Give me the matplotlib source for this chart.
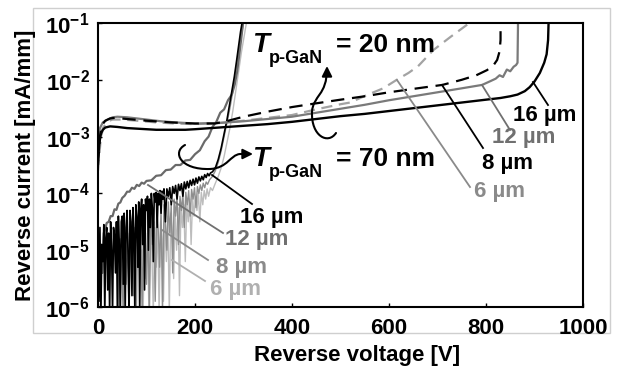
import numpy as np
import matplotlib
matplotlib.use('Agg')
import matplotlib.pyplot as plt
from matplotlib.path import Path
from matplotlib.patches import FancyArrowPatch, Rectangle
from matplotlib.lines import Line2D
from matplotlib.transforms import Affine2D

plt.rcParams['font.family'] = ['Liberation Sans', 'DejaVu Sans']
plt.rcParams['font.weight'] = 'bold'
plt.rcParams['mathtext.fontset'] = 'custom'
plt.rcParams['mathtext.rm'] = 'Liberation Sans:bold'
plt.rcParams['mathtext.bf'] = 'Liberation Sans:bold'

# (reverse voltage [V], log10 of reverse current [mA/mm])
# T_p-GaN = 20 nm
g20_16um = [(0, -3.4), (3, -3.1), (6, -2.95), (10, -2.88), (15, -2.84), (25, -2.82), (40, -2.83),
            (60, -2.85), (80, -2.86), (100, -2.87), (120, -2.88), (150, -2.88), (180, -2.88),
            (200, -2.87), (250, -2.84), (300, -2.81), (350, -2.78), (400, -2.74), (450, -2.69),
            (500, -2.64), (550, -2.6), (600, -2.55), (650, -2.5), (700, -2.45), (750, -2.4),
            (800, -2.35), (830, -2.32), (850, -2.29), (865, -2.26), (880, -2.2), (890, -2.13),
            (900, -2.03), (911, -1.88), (920, -1.7), (925, -1.55), (928, -1.3), (929, -1.0)]
g20_12um = [(0, -3.0), (4, -2.85), (10, -2.75), (20, -2.7), (30, -2.66), (40, -2.65), (60, -2.66),
            (80, -2.68), (100, -2.7), (130, -2.73), (160, -2.75), (200, -2.77), (250, -2.76),
            (300, -2.73), (350, -2.69), (400, -2.65), (450, -2.58), (500, -2.51), (550, -2.44),
            (600, -2.36), (650, -2.29), (700, -2.22), (750, -2.15), (792, -2.09), (810, -2.02),
            (820, -1.98), (828, -1.92), (835, -1.95), (843, -1.82), (850, -1.85), (857, -1.77),
            (862, -1.74), (865, -1.7), (866, -1.0)]
g20_8um = [(0, -3.5), (4, -3.0), (8, -2.8), (15, -2.72), (25, -2.68), (35, -2.67), (60, -2.69),
           (100, -2.72), (150, -2.75), (200, -2.77), (240, -2.77), (260, -2.74), (300, -2.65),
           (350, -2.56), (400, -2.48), (430, -2.44), (500, -2.35), (550, -2.29), (600, -2.22),
           (650, -2.16), (710, -2.09), (750, -2.0), (780, -1.92), (802, -1.83), (815, -1.75),
           (823, -1.65), (828, -1.5), (830, -1.3), (830, -1.0)]
g20_6um = [(0, -3.6), (5, -3.1), (10, -2.85), (20, -2.73), (30, -2.7), (50, -2.7), (80, -2.72),
           (120, -2.75), (160, -2.77), (200, -2.78), (250, -2.76), (300, -2.72), (350, -2.67),
           (400, -2.62), (450, -2.52), (500, -2.43), (520, -2.4), (554, -2.27), (588, -2.15),
           (616, -2.0), (640, -1.88), (660, -1.76), (691, -1.48), (726, -1.25), (761, -1.03),
           (765, -1.0)]

# T_p-GaN = 70 nm (noisy traces, values below 1e-6 run off the axis)
g70_16um = [(0, -4.7), (2, -5.9), (4, -4.6), (6, -6.1), (8, -4.9), (10, -5.2), (12, -4.55),
            (14, -6.1), (16, -4.8), (18, -4.6), (20, -5.7), (22, -4.7), (24, -6.1), (26, -4.5),
            (28, -5.0), (30, -6.1), (32, -4.6), (34, -4.75), (36, -5.4), (38, -4.5), (40, -6.1),
            (42, -4.4), (44, -4.9), (46, -6.1), (48, -4.5), (50, -4.4), (52, -5.6), (54, -4.35),
            (56, -6.1), (58, -4.6), (60, -4.3), (62, -5.1), (64, -6.1), (66, -4.3), (68, -4.5),
            (70, -5.8), (72, -4.25), (74, -4.7), (76, -6.1), (78, -4.2), (80, -4.4), (82, -5.3),
            (84, -4.15), (86, -6.1), (88, -4.3), (90, -4.1), (92, -4.9), (94, -4.2), (96, -5.7),
            (98, -4.1), (100, -4.3), (102, -4.05), (104, -5.0), (106, -4.1), (108, -4.6),
            (110, -4.0), (112, -4.25), (114, -5.2), (116, -4.0), (118, -4.15), (120, -3.98),
            (122, -4.6), (124, -4.0), (126, -4.2), (128, -3.95), (130, -4.35), (132, -3.96),
            (134, -4.1), (136, -3.92), (139, -4.5), (142, -3.92), (145, -4.05), (148, -3.9),
            (151, -4.2), (154, -3.88), (157, -4.0), (160, -3.86), (163, -4.1), (166, -3.84),
            (169, -3.95), (172, -3.83), (175, -4.05), (178, -3.8), (181, -3.92), (184, -3.79),
            (187, -3.9), (190, -3.77), (193, -3.86), (196, -3.75), (199, -3.85), (202, -3.73),
            (205, -3.82), (208, -3.71), (211, -3.78), (214, -3.7), (217, -3.76), (220, -3.67),
            (223, -3.72), (226, -3.65), (229, -3.69), (232, -3.64), (236, -3.62), (242, -3.55),
            (248, -3.4), (254, -3.2), (260, -2.95), (266, -2.7), (271, -2.45), (276, -2.2),
            (281, -1.95), (286, -1.65), (290, -1.4), (294, -1.15), (297, -1.0)]
g70_12um = [(0, -5.2), (3, -5.8), (6, -4.9), (9, -5.4), (12, -4.7), (15, -4.62), (18, -4.52),
            (22, -4.5), (26, -4.4), (30, -4.4), (34, -4.28), (38, -4.29), (42, -4.18),
            (46, -4.16), (50, -4.08), (55, -4.04), (60, -3.97), (65, -3.97), (70, -3.9),
            (75, -3.92), (80, -3.85), (85, -3.87), (90, -3.81), (95, -3.83), (100, -3.78),
            (110, -3.77), (120, -3.69), (130, -3.68), (140, -3.59), (150, -3.58), (160, -3.5),
            (170, -3.5), (180, -3.42), (190, -3.41), (200, -3.31), (210, -3.24), (220, -3.08),
            (228, -3.0), (236, -2.83), (244, -2.74), (252, -2.58), (260, -2.52), (268, -2.36),
            (276, -2.26), (282, -2.08), (287, -1.85), (291, -1.58), (295, -1.3), (299, -1.0)]
g70_8um = [(40, -5.0), (43, -6.1), (46, -4.8), (49, -5.3), (52, -6.1), (55, -4.75), (58, -5.6),
           (61, -4.7), (64, -6.1), (67, -4.9), (70, -4.65), (73, -5.8), (76, -4.6), (79, -6.1),
           (82, -4.5), (85, -5.1), (88, -4.55), (91, -6.1), (94, -4.45), (97, -4.7), (100, -5.6),
           (103, -4.4), (106, -6.1), (109, -4.35), (112, -4.9), (115, -4.5), (118, -5.9),
           (121, -4.3), (124, -4.6), (127, -5.3), (130, -4.25), (133, -6.1), (136, -4.2),
           (139, -4.5), (142, -5.0), (145, -4.15), (148, -4.7), (151, -4.2), (154, -5.4),
           (157, -4.1), (160, -4.4), (163, -4.05), (166, -4.9), (169, -4.05), (172, -4.3),
           (175, -4.0), (178, -4.6), (181, -3.98), (184, -4.2), (187, -3.95), (190, -4.4),
           (193, -3.93), (196, -4.1), (199, -3.9), (202, -4.25), (205, -3.88), (208, -4.0),
           (211, -3.85), (214, -3.95), (217, -3.82), (220, -3.9), (223, -3.8), (226, -3.84),
           (230, -3.76), (236, -3.7), (242, -3.6), (248, -3.45), (254, -3.25), (260, -3.0),
           (266, -2.75), (272, -2.5), (278, -2.2), (284, -1.85), (290, -1.5), (295, -1.25),
           (300, -1.0)]
g70_6um = [(90, -5.0), (93, -6.1), (96, -4.8), (99, -5.5), (102, -4.7), (105, -6.1), (108, -4.65),
           (111, -5.0), (114, -6.1), (117, -4.6), (120, -5.3), (123, -4.55), (126, -6.1),
           (129, -4.5), (132, -4.8), (135, -5.9), (138, -4.45), (141, -5.2), (144, -4.4),
           (147, -6.1), (150, -4.35), (153, -4.7), (156, -5.5), (159, -4.3), (162, -5.0),
           (165, -4.25), (168, -5.8), (171, -4.2), (174, -4.6), (177, -4.2), (180, -5.2),
           (183, -4.15), (186, -4.5), (189, -4.1), (192, -4.9), (195, -4.08), (198, -4.4),
           (201, -4.05), (204, -4.3), (207, -4.0), (210, -4.5), (213, -3.98), (216, -4.2),
           (219, -3.95), (222, -4.1), (225, -3.92), (228, -4.05), (232, -3.9), (236, -3.95),
           (242, -3.82), (248, -3.7), (254, -3.55), (260, -3.35), (266, -3.1), (272, -2.85),
           (278, -2.55), (284, -2.2), (290, -1.85), (296, -1.5), (302, -1.2), (306, -1.0)]

xticks = [0, 200, 400, 600, 800, 1000]
yticks = [1e-6, 1e-5, 1e-4, 1e-3, 1e-2, 1e-1]
ytick_labels = [r'$\mathbf{10^{-6}}$', r'$\mathbf{10^{-5}}$', r'$\mathbf{10^{-4}}$',
                r'$\mathbf{10^{-3}}$', r'$\mathbf{10^{-2}}$', r'$\mathbf{10^{-1}}$']

W, H = 622, 369
fig = plt.figure(figsize=(W / 100, H / 100), dpi=100)
# pixel coordinates, origin top-left
pxT = Affine2D().scale(1 / W, -1 / H).translate(0, 1) + fig.transFigure

# light grey chart-area frame
fig.add_artist(Rectangle((33, 8), 577, 325, transform=pxT, fill=False,
                         edgecolor='#cfcfcf', lw=1, zorder=-1))

ax = fig.add_axes([98 / W, 1 - 307 / H, 485 / W, 284 / H])


def draw(pts, **kw):
    v, l = zip(*pts)
    ax.plot(v, 10 ** np.array(l), **kw)


# 70 nm (noisy, low leakage)
draw(g70_6um, color='#bdbdbd', lw=1.0)
draw(g70_8um, color='#8e8e8e', lw=1.0)
draw(g70_12um, color='#6a6a6a', lw=1.6)
draw(g70_16um, color='black', lw=1.2)
# 20 nm
draw(g20_6um, color='#a3a3a3', lw=1.6, dashes=(5, 3))
draw(g20_12um, color='#7a7a7a', lw=1.6)
draw(g20_8um, color='black', lw=1.6, dashes=(6, 3.5))
draw(g20_16um, color='black', lw=1.7)

ax.set_yscale('log')
ax.set_xlim(0, 1000)
ax.set_ylim(1e-6, 1e-1)
ax.set_xticks(xticks)
ax.set_yticks(yticks)
ax.set_yticklabels(ytick_labels)
ax.minorticks_off()
ax.tick_params(direction='in', length=3, width=1, labelsize=16)
ax.tick_params(axis='x', pad=8)
ax.tick_params(axis='y', pad=6)
for s in ax.spines.values():
    s.set_linewidth(1.5)

ax.set_xlabel('Reverse voltage [V]', fontsize=16, fontweight='bold')
ax.set_ylabel('Reverse current [mA/mm]', fontsize=16, fontweight='bold')
ax.xaxis.set_label_coords(0.535, -0.135)
ax.yaxis.set_label_coords(-0.128, 0.5)

# labels with pointer lines (pixel coords): text, colour, text centre, line start, line end
labels = [
    ('16 µm', 'black', (545, 115), (533, 82), (548, 105)),
    ('12 µm', '#707070', (524, 138), (482, 85), (510, 130)),
    ('8 µm', 'black', (508, 163), (442, 85), (483, 148)),
    ('6 µm', '#8a8a8a', (500, 191), (397, 80), (470, 187)),
    ('16 µm', 'black', (272, 218), (212, 175), (252, 204)),
    ('12 µm', '#707070', (257, 240), (148, 185), (223, 233)),
    ('8 µm', '#8a8a8a', (241, 267), (162, 230), (208, 260)),
    ('6 µm', '#b0b0b0', (235, 290), (172, 260), (205, 281)),
]
for txt, c, tp, p0, p1 in labels:
    fig.add_artist(Line2D([p0[0], p1[0]], [p0[1], p1[1]], transform=pxT, color=c, lw=1.3))
    fig.text(tp[0], tp[1], txt, transform=pxT, color=c, fontsize=16, fontweight='bold',
             ha='center', va='center')

# T_p-GaN labels
for base, val in [(52, '= 20 nm'), (166, '= 70 nm')]:
    fig.text(252, base, 'T', transform=pxT, fontsize=20, fontweight='bold', fontstyle='italic',
             va='baseline')
    fig.text(269, base + 11, 'p-GaN', transform=pxT, fontsize=13, fontweight='bold', va='baseline')
    fig.text(336, base, val, transform=pxT, fontsize=19, fontweight='bold', va='baseline')

# curved arrows
arr_up = Path([(336, 133), (328, 145), (311, 136), (312, 112), (313, 95), (327, 96), (327, 66)],
              [Path.MOVETO, Path.CURVE4, Path.CURVE4, Path.CURVE4, Path.CURVE4, Path.CURVE4, Path.CURVE4])
arr_right = Path([(185, 145), (172, 152), (180, 170), (210, 169), (228, 168), (230, 155), (240, 154), (253, 154)],
                 [Path.MOVETO, Path.CURVE4, Path.CURVE4, Path.CURVE4, Path.CURVE4, Path.CURVE4, Path.CURVE4,
                  Path.LINETO])
for p in (arr_up, arr_right):
    fig.add_artist(FancyArrowPatch(path=p, transform=pxT, arrowstyle='-|>,head_length=0.6,head_width=0.3',
                                   mutation_scale=10, color='black', lw=1.5))

fig.savefig('out.png', dpi=100)
